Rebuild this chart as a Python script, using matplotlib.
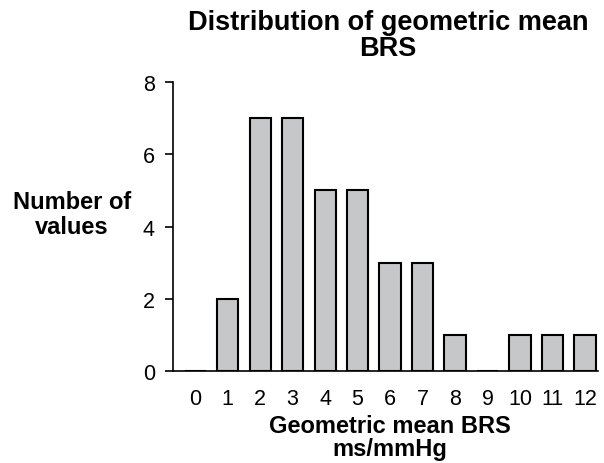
import numpy as np
import matplotlib.pyplot as plt

plt.rcParams['font.family'] = ['Liberation Sans', 'DejaVu Sans']

bins = [0, 1, 2, 3, 4, 5, 6, 7, 8, 9, 10, 11, 12]
counts = [0, 2, 7, 7, 5, 5, 3, 3, 1, 0, 1, 1, 1]
yticks = [0, 2, 4, 6, 8]

fig = plt.figure(figsize=(6.04, 4.64), dpi=100)
ax = fig.add_axes([173 / 604, 1 - 372 / 464, (598 - 173) / 604, (372 - 83) / 464])

ax.bar(bins, counts, width=0.65, color='#c6c7c9', edgecolor='black', linewidth=1.5)

ax.set_xlim(-0.68, 12.4)
ax.set_ylim(0, 8)
ax.set_yticks(yticks)
ax.set_xticks(bins)
ax.tick_params(axis='x', length=0, labelsize=15.5, pad=12)
ax.tick_params(axis='y', length=6, width=1.2, labelsize=15.5, direction='out', pad=7)
for s in ['top', 'right']:
    ax.spines[s].set_visible(False)
ax.spines['left'].set_linewidth(1.2)
ax.spines['bottom'].set_linewidth(1.2)

fig.text(388 / 604, 1 - 36 / 464, 'Distribution of geometric mean\nBRS', ha='center', va='center',
         fontsize=19.5, fontweight='bold', linespacing=0.98)
fig.text(72 / 604, 1 - 215 / 464, 'Number of\nvalues', ha='center', va='center',
         fontsize=17, fontweight='bold', linespacing=1.1)
fig.text(390 / 604, 1 - 438 / 464, 'Geometric mean BRS\nms/mmHg', ha='center', va='center',
         fontsize=17, fontweight='bold', linespacing=0.95)

plt.savefig('out.png', dpi=100)
